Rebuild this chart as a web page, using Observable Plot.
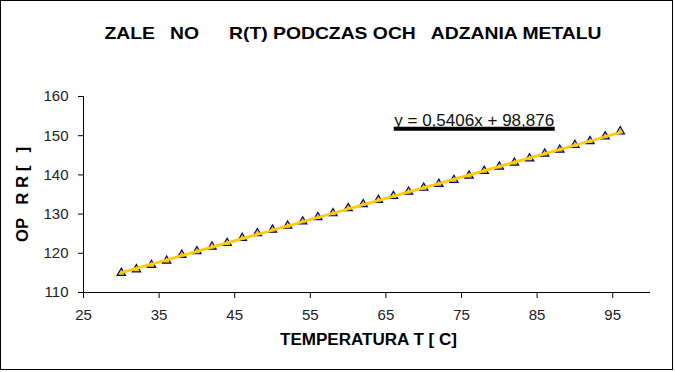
<!DOCTYPE html>
<html>
<head>
<meta charset="utf-8">
<script src="https://cdn.jsdelivr.net/npm/d3@7"></script>
<script src="https://cdn.jsdelivr.net/npm/@observablehq/plot@0.6"></script>
<style>
  html, body { margin: 0; padding: 0; background: #fff; }
  #wrap { position: relative; width: 675px; height: 372px; }
  #border { position: absolute; left: 0; top: 0; width: 671px; height: 368px; border: 1px solid #000; }
  #chart { position: absolute; left: 0; top: 0; }
</style>
</head>
<body>
<div id="wrap"><div id="border"></div><div id="chart"></div></div>
<script>
const temperature = [30, 32, 34, 36, 38, 40, 42, 44, 46, 48, 50, 52, 54, 56, 58, 60, 62,
                     64, 66, 68, 70, 72, 74, 76, 78, 80, 82, 84, 86, 88, 90, 92, 94, 96];
const resistance = [115.0, 115.9, 117.0, 118.1, 119.6, 120.5, 121.7, 122.6, 123.9, 125.1,
                    126.0, 127.0, 128.1, 129.2, 130.2, 131.5, 132.5, 133.6, 134.6, 135.7,
                    136.7, 137.7, 138.7, 139.8, 141.0, 142.1, 143.1, 144.2, 145.4, 146.4,
                    147.6, 148.6, 149.8, 151.1];
const xTicks = [25, 35, 45, 55, 65, 75, 85, 95];
const yTicks = [110, 120, 130, 140, 150, 160];
const titleText = "ZALE\u2002\u00A0NO\u2003\u00A0\u00A0R(T) PODCZAS OCH\u2002\u00A0ADZANIA METALU";
const xLabel = "TEMPERATURA T [ C]";
const yLabel = "OP\u2002\u00A0R R [\u2002\u00A0]";
const equationText = "y = 0,5406x + 98,876";
const equationPos = {x: 66.1, y: 152.6, x2: 87.4, yBar: 151.8};

const data = temperature.map((t, i) => ({t, r: resistance[i]}));
const font = "'Liberation Sans', Arial, sans-serif";

const chart = Plot.plot({
  width: 675,
  height: 372,
  marginLeft: 83,
  marginRight: 25,
  marginTop: 96,
  marginBottom: 80,
  style: {fontFamily: font, background: "transparent", overflow: "visible"},
  x: {domain: [25, 100], axis: null},
  y: {domain: [110, 160], axis: null},
  marks: [
    Plot.axisX(xTicks, {tickSize: 6, tickPadding: 11, fontSize: 15, fill: "#222", label: null}),
    Plot.axisY(yTicks, {tickSize: 5, tickPadding: 10, fontSize: 15, fill: "#222", label: null}),
    Plot.ruleX([25], {stroke: "#000"}),
    Plot.ruleY([110], {stroke: "#000"}),
    Plot.dot(data, {x: "t", y: "r", symbol: "triangle", r: 3.1, fill: "#FFCC00", stroke: "#000080", strokeWidth: 1.2}),
    Plot.linearRegressionY(data, {x: "t", y: "r", stroke: "#FFCC00", strokeWidth: 2.8, ci: 0}),
    Plot.text([equationText], {x: equationPos.x, y: equationPos.y, text: d => d, textAnchor: "start", lineAnchor: "bottom", fontSize: 16, fill: "#111"}),
    Plot.ruleY([equationPos.yBar], {x1: equationPos.x, x2: equationPos.x2, stroke: "#000", strokeWidth: 4}),
    Plot.text([titleText], {frameAnchor: "top", dx: -14, dy: -63, text: d => d, textAnchor: "middle", lineAnchor: "middle", fontSize: 17, fontWeight: "bold", fill: "#000"}),
    Plot.text([xLabel], {frameAnchor: "bottom", dx: 1.5, dy: 47, text: d => d, textAnchor: "middle", lineAnchor: "middle", fontSize: 16, fontWeight: "bold", fill: "#000"}),
    Plot.text([yLabel], {frameAnchor: "left", dx: -60.5, dy: 0, rotate: -90, text: d => d, textAnchor: "middle", lineAnchor: "middle", fontSize: 16, fontWeight: "bold", fill: "#000"})
  ]
});
// stretch text widths to match the reference rendering
const stretch = new Map([[titleText, 497], [xLabel, 177], [yLabel, 95], [equationText, 160]]);
d3.select(chart).selectAll("text").each(function () {
  const w = stretch.get(this.textContent);
  if (w) d3.select(this).attr("textLength", w).attr("lengthAdjust", "spacingAndGlyphs");
});
document.getElementById("chart").appendChild(chart);
</script>
</body>
</html>
